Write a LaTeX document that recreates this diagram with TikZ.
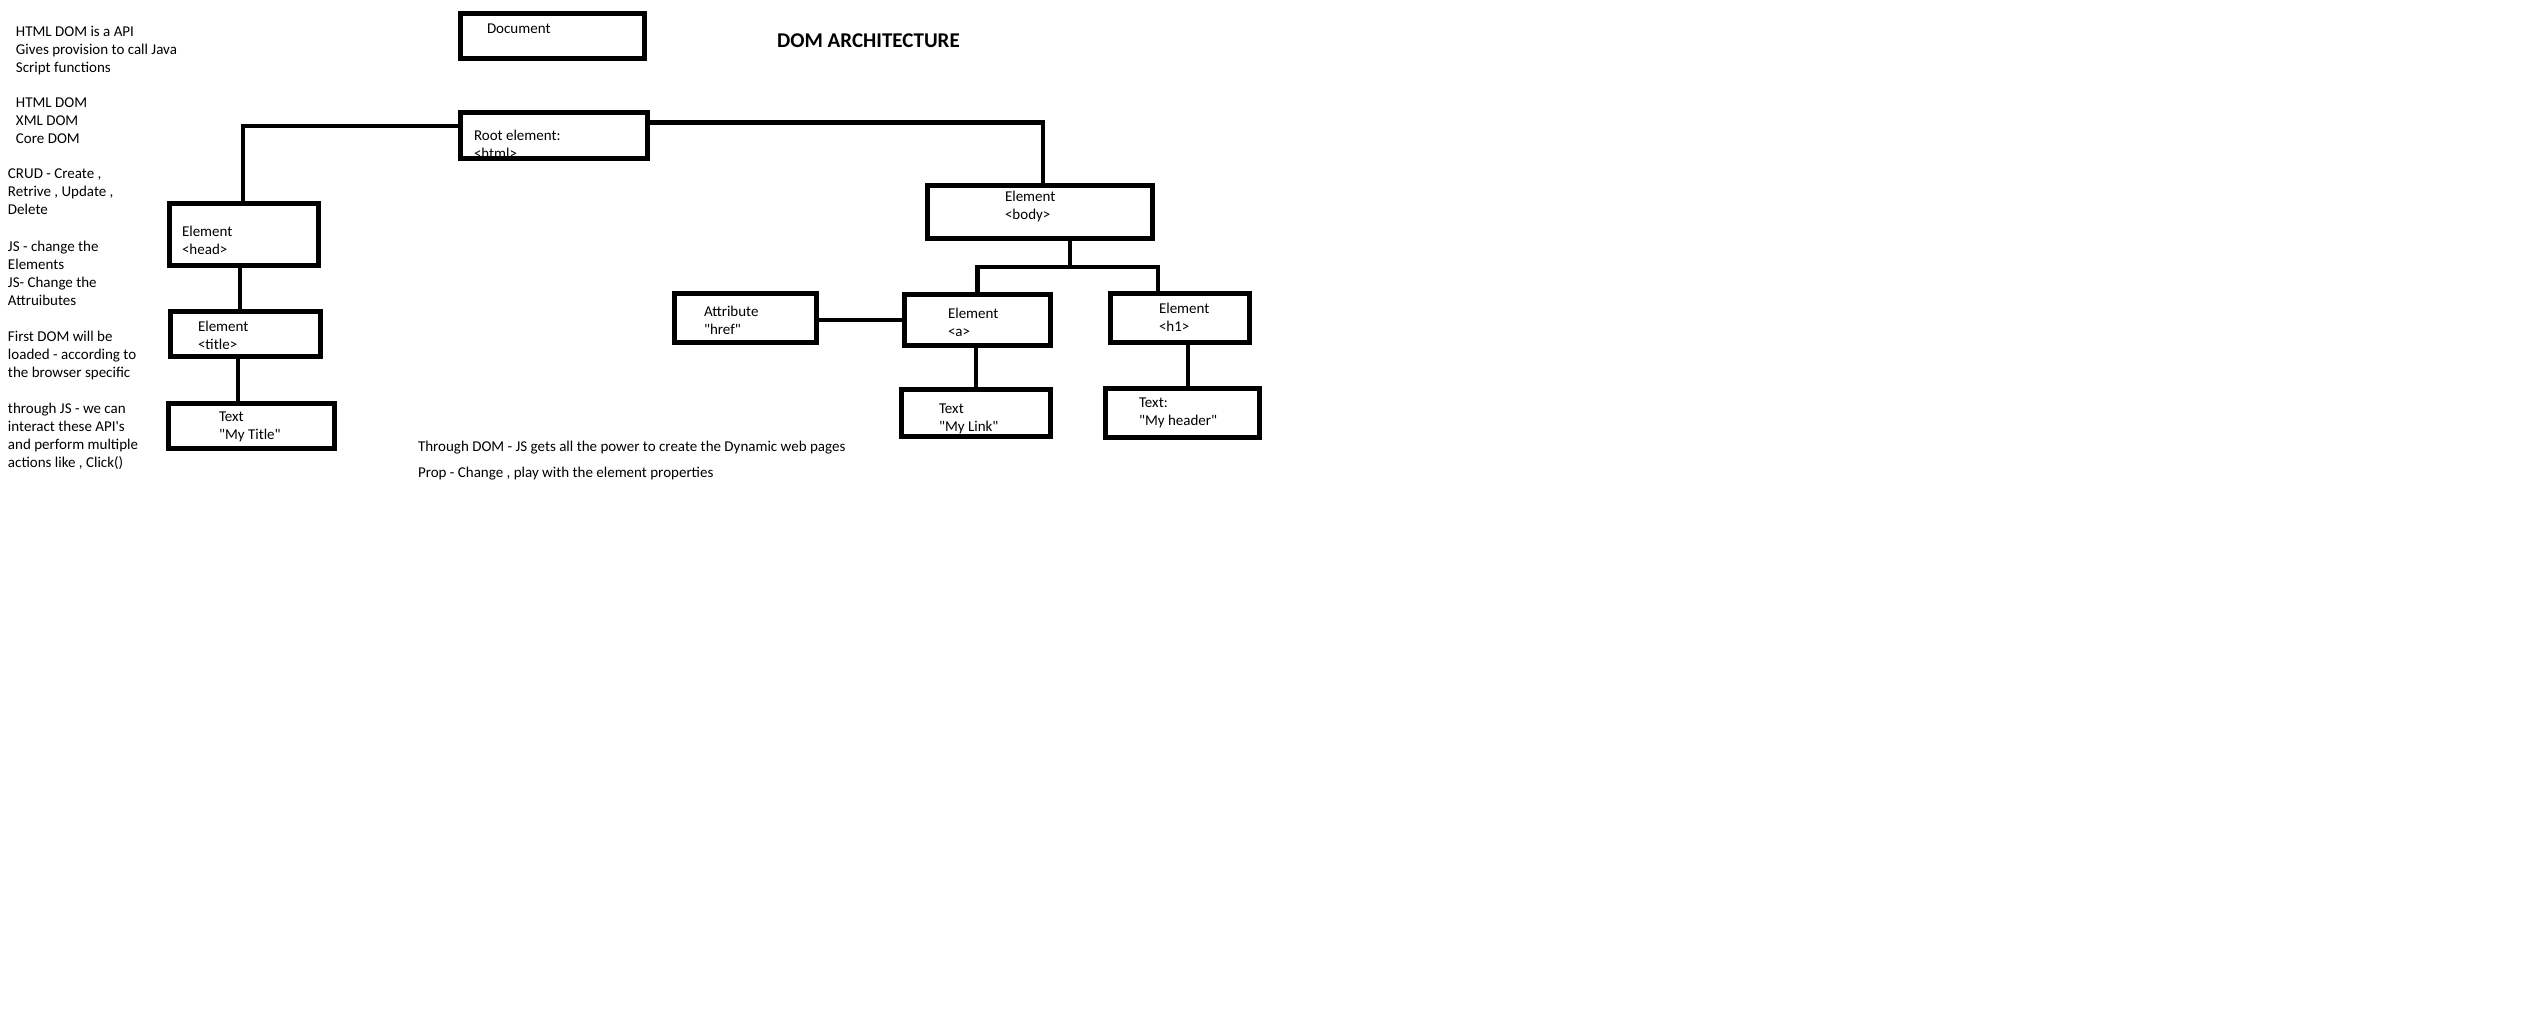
\documentclass[tikz,border=0pt]{standalone}
\usepackage{fontspec}
\newfontfamily\calib{Carlito}
\begin{document}
\begin{tikzpicture}[x=1pt,y=-1pt,
  every node/.style={font=\calib\fontsize{15}{17.9}\selectfont},
  % multi-line labels: the base anchor sits on the last line
  txt/.style={anchor=base west, inner sep=0pt, outer sep=0pt, align=left},
  heading/.style={anchor=base west, inner sep=0pt, font=\calib\bfseries\fontsize{21}{24}\selectfont},
  dombox/.style={draw, rectangle, line width=5pt, inner sep=0pt, outer sep=0pt},
  link/.style={draw, line width=4.5pt, line join=miter},
]
\fill[white] (0,0) rectangle (2544,1014);
\useasboundingbox (0,0) rectangle (2544,1014);

% ---- notes on the left ----
\node[txt] (n1) at (16,72.3)  {HTML DOM is a API\\Gives provision to call Java\\Script functions};
\node[txt] (n2) at (16,143.3) {HTML DOM\\XML DOM\\Core DOM};
\node[txt] (n3) at (8,214.3)  {CRUD - Create ,\\Retrive , Update ,\\Delete};
\node[txt] (n4) at (8,305.2)  {JS - change the\\Elements\\JS- Change the\\Attruibutes};
\node[txt] (n5) at (8,377.3)  {First DOM will be\\loaded - according to\\the browser specific};
\node[txt] (n6) at (8,467.2)  {through JS - we can\\interact these API's\\and perform multiple\\actions like , Click()};

% ---- heading and remarks ----
\node[heading] (head-title) at (777,47.5) {DOM ARCHITECTURE};
\node[txt] (r1) at (418,451.5) {Through DOM - JS gets all the power to create the Dynamic web pages};
\node[txt] (r2) at (418,477.5) {Prop - Change , play with the element properties};

% ---- labels inside the boxes ----
\node[txt] (t-doc)    at (487,33.5)   {Document};
\node[txt] (t-root)   at (474,158.4)  {Root element:\\<html>};
\node[txt] (t-head)   at (182,254.4)  {Element\\<head>};
\node[txt] (t-title)  at (198,349.4)  {Element\\<title>};
\node[txt] (t-mytit)  at (219,439.4)  {Text\\"My Title"};
\node[txt] (t-body)   at (1005,219.4) {Element\\<body>};
\node[txt] (t-attr)   at (704,334.4)  {Attribute\\"href"};
\node[txt] (t-a)      at (948,336.4)  {Element\\<a>};
\node[txt] (t-h1)     at (1159,331.4) {Element\\<h1>};
\node[txt] (t-link)   at (939,431.4)  {Text\\"My Link"};
\node[txt] (t-header) at (1139,425.4) {Text:\\"My header"};

% ---- boxes ----
\node[dombox, minimum width=184pt, minimum height=45pt] (docbox)    at (552.5,36)   {};
\node[dombox, minimum width=187pt, minimum height=46pt] (rootbox)   at (554,135.5)  {};
\node[dombox, minimum width=149pt, minimum height=62pt] (headbox)   at (244,234.5)  {};
\node[dombox, minimum width=150pt, minimum height=45pt] (titlebox)  at (245.5,334)  {};
\node[dombox, minimum width=166pt, minimum height=45pt] (mytitbox)  at (251.5,426)  {};
\node[dombox, minimum width=225pt, minimum height=53pt] (bodybox)   at (1040,212)   {};
\node[dombox, minimum width=142pt, minimum height=49pt] (attrbox)   at (745.5,318)  {};
\node[dombox, minimum width=146pt, minimum height=51pt] (abox)      at (977.5,320)  {};
\node[dombox, minimum width=139pt, minimum height=49pt] (h1box)     at (1180,318)   {};
\node[dombox, minimum width=149pt, minimum height=47pt] (linkbox)   at (976,413)    {};
\node[dombox, minimum width=154pt, minimum height=49pt] (headerbox) at (1182.5,413) {};

% ---- connectors ----
\coordinate (hj) at (243,126);
\coordinate (bj) at (1043,122.5);
\coordinate (bk) at (1070,267);
\coordinate (hk) at (1158,267);

\path[link] (rootbox.west |- hj) -- (hj) -- (headbox.north -| hj);
\path[link] (rootbox.east |- bj) -- (bj) -- (bj |- bodybox.north);
\path[link] ([xshift=-4pt]headbox.south) -- ([xshift=-4pt]headbox.south |- titlebox.north);
\path[link] ([xshift=-7.5pt]titlebox.south) -- ([xshift=-7.5pt]titlebox.south |- mytitbox.north);
\path[link] (bodybox.south -| bk) -- (bk);
\path[link] (abox.north) -- (abox.north |- bk) -- (hk) -- (hk |- h1box.north);
\path[link] (attrbox.east |- abox.west) -- (abox.west);
\path[link] (abox.south -| linkbox.north) -- (linkbox.north);
\path[link] ([xshift=8pt]h1box.south) -- ([xshift=8pt]h1box.south |- headerbox.north);
\end{tikzpicture}
\end{document}
